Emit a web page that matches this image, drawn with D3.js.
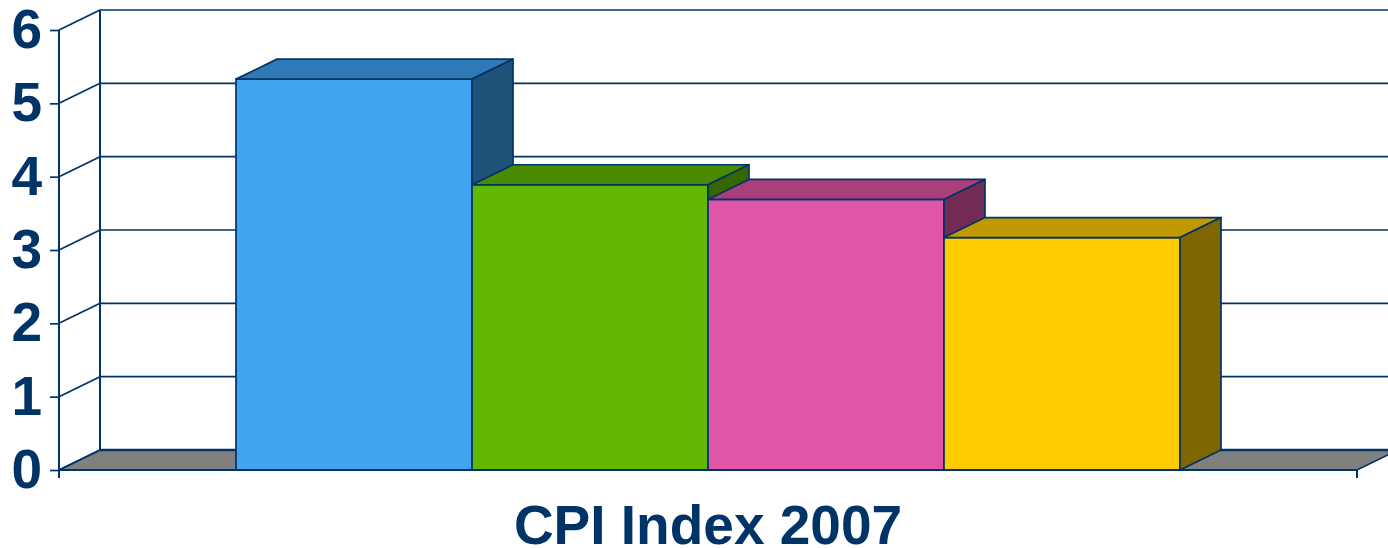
<!DOCTYPE html>
<html>
<head>
<meta charset="utf-8">
<script src="https://cdn.jsdelivr.net/npm/d3@7"></script>
<style>
  body { margin: 0; background: #fff; }
  svg { display: block; }
</style>
</head>
<body>
<div id="container"></div>
<script>
var width = 1388;
var height = 548;

// chart data
var categories = ["CPI Index 2007"];
var seriesNames = ["s1", "s2", "s3", "s4"];
var values = [5.33, 3.89, 3.69, 3.17];
var yTicks = [0, 1, 2, 3, 4, 5, 6];

var frontColors = ["#40A4F0", "#62B800", "#E056A6", "#FFCC00"];
var topColors = ["#2F7AB6", "#4A8A00", "#AA3F7C", "#C09900"];
var sideColors = ["#1F5278", "#366600", "#722B54", "#806600"];

var ink = "#003366";
var left = 59, right = 1357, floorY = 470, topY = 30;
var dx = 41, dy = -20; // depth offset

var yScale = d3.scaleLinear().domain([0, 6]).range([floorY, topY]);
var catScale = d3.scaleBand().domain(categories).range([left, right]);
var xScale = d3.scaleBand().domain(seriesNames).range([left, right])
    .paddingInner(0).paddingOuter(0.75);

var svg = d3.select("#container").append("svg")
    .attr("width", width)
    .attr("height", height);

// floor
svg.append("polygon")
    .attr("points", [[left, floorY], [left + dx, floorY + dy], [right + dx, floorY + dy], [right, floorY]].join(" "))
    .attr("fill", "#808080")
    .attr("stroke", ink)
    .attr("stroke-width", 1.5);

// back wall gridlines
svg.selectAll("line.grid")
    .data(yTicks.slice(1))
    .enter()
    .append("line")
    .attr("class", "grid")
    .attr("x1", left + dx)
    .attr("x2", right + dx)
    .attr("y1", function (d) { return yScale(d) + dy; })
    .attr("y2", function (d) { return yScale(d) + dy; })
    .attr("stroke", ink)
    .attr("stroke-width", 1.7);

// side wall diagonals
svg.selectAll("line.diag")
    .data(yTicks)
    .enter()
    .append("line")
    .attr("class", "diag")
    .attr("x1", left)
    .attr("x2", left + dx)
    .attr("y1", function (d) { return yScale(d); })
    .attr("y2", function (d) { return yScale(d) + dy; })
    .attr("stroke", ink)
    .attr("stroke-width", 1.7);

// back wall left edge
svg.append("line")
    .attr("x1", left + dx).attr("x2", left + dx)
    .attr("y1", yScale(6) + dy).attr("y2", yScale(0) + dy)
    .attr("stroke", ink).attr("stroke-width", 2);

// floor back edge (thicker)
svg.append("line")
    .attr("x1", left + dx).attr("x2", right + dx)
    .attr("y1", floorY + dy).attr("y2", floorY + dy)
    .attr("stroke", ink).attr("stroke-width", 2.5);

// bars
var bars = svg.selectAll("g.bar")
    .data(values)
    .enter()
    .append("g")
    .attr("class", "bar");

bars.append("rect")
    .attr("x", function (d, i) { return xScale(seriesNames[i]); })
    .attr("y", function (d) { return yScale(d); })
    .attr("width", xScale.bandwidth())
    .attr("height", function (d) { return floorY - yScale(d); })
    .attr("fill", function (d, i) { return frontColors[i]; })
    .attr("stroke", ink)
    .attr("stroke-width", 1.7);

bars.append("polygon")
    .attr("points", function (d, i) {
        var x0 = xScale(seriesNames[i]), x1 = x0 + xScale.bandwidth(), y0 = yScale(d);
        return [[x0, y0], [x0 + dx, y0 + dy], [x1 + dx, y0 + dy], [x1, y0]].join(" ");
    })
    .attr("fill", function (d, i) { return topColors[i]; })
    .attr("stroke", ink)
    .attr("stroke-width", 1.7)
    .attr("stroke-linejoin", "round");

bars.append("polygon")
    .attr("points", function (d, i) {
        var x1 = xScale(seriesNames[i]) + xScale.bandwidth(), y0 = yScale(d);
        return [[x1, y0], [x1 + dx, y0 + dy], [x1 + dx, floorY + dy], [x1, floorY]].join(" ");
    })
    .attr("fill", function (d, i) { return sideColors[i]; })
    .attr("stroke", ink)
    .attr("stroke-width", 1.7)
    .attr("stroke-linejoin", "round");

// front floor edge
svg.append("line")
    .attr("x1", left).attr("x2", right)
    .attr("y1", floorY).attr("y2", floorY)
    .attr("stroke", ink).attr("stroke-width", 2);

// Y axis
var yAxis = d3.axisLeft(yScale).tickValues(yTicks).tickFormat(d3.format("d"))
    .tickSize(9).tickPadding(8);
var gy = svg.append("g")
    .attr("transform", "translate(" + left + ",0)")
    .call(yAxis);
gy.select(".domain").remove();
gy.selectAll("line").attr("stroke", ink).attr("stroke-width", 1.7);
gy.selectAll("text")
    .attr("fill", ink)
    .attr("font-family", "Liberation Sans, Arial, sans-serif")
    .attr("font-weight", "bold")
    .attr("font-size", "55px");

svg.append("line")
    .attr("x1", left).attr("x2", left)
    .attr("y1", topY).attr("y2", floorY + 8)
    .attr("stroke", ink).attr("stroke-width", 2);

// X axis (category)
var xAxis = d3.axisBottom(catScale).tickSize(0).tickPadding(35);
var gx = svg.append("g")
    .attr("transform", "translate(0," + floorY + ")")
    .call(xAxis);
gx.select(".domain").remove();
gx.selectAll("text")
    .attr("fill", ink)
    .attr("font-family", "Liberation Sans, Arial, sans-serif")
    .attr("font-weight", "bold")
    .attr("font-size", "55px");

// category boundary ticks
svg.selectAll("line.cat")
    .data([catScale.range()[0], catScale.range()[1]])
    .enter()
    .append("line")
    .attr("class", "cat")
    .attr("x1", function (d) { return d; })
    .attr("x2", function (d) { return d; })
    .attr("y1", floorY)
    .attr("y2", floorY + 8)
    .attr("stroke", ink)
    .attr("stroke-width", 2);
</script>
</body>
</html>
